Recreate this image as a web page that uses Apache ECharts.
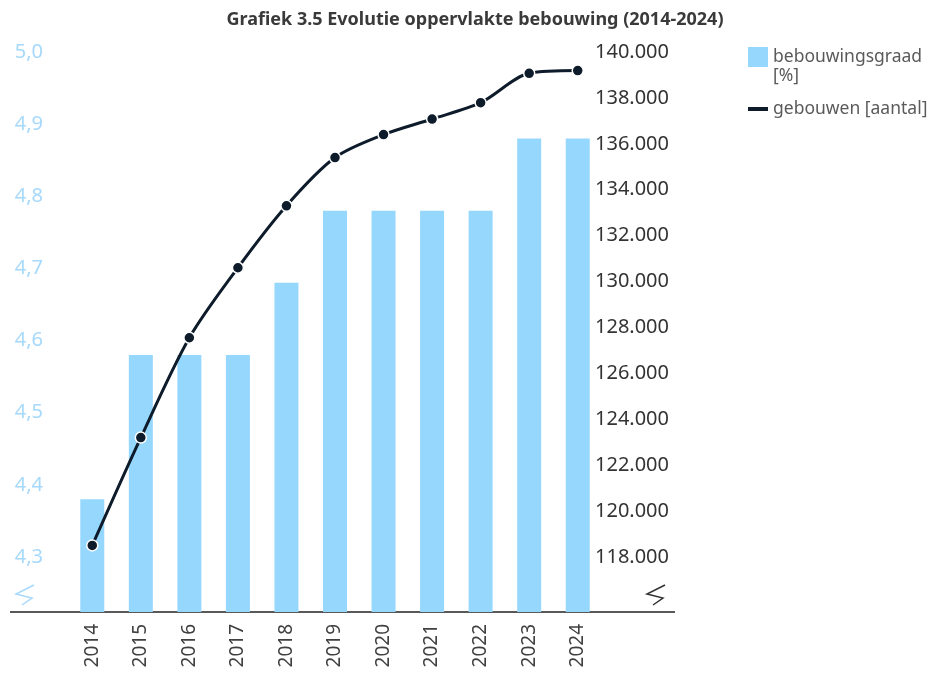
<!DOCTYPE html>
<html>
<head>
<meta charset="utf-8">
<script src="https://cdn.jsdelivr.net/npm/echarts@6/dist/echarts.min.js"></script>
<style>
  html, body { margin: 0; padding: 0; background: #fff; }
  #main { width: 939px; height: 677px; }
</style>
</head>
<body>
<div id="main"></div>
<script>
var jaren = ['2014', '2015', '2016', '2017', '2018', '2019', '2020', '2021', '2022', '2023', '2024'];
var bebouwingsgraad = [4.38, 4.58, 4.58, 4.58, 4.68, 4.78, 4.78, 4.78, 4.78, 4.88, 4.88];
var gebouwen = [118500, 123200, 127550, 130600, 133300, 135400, 136400, 137080, 137790, 139070, 139190];
var naamBar = 'bebouwingsgraad';
var naamLijn = 'gebouwen [aantal]';

var font = '"Noto Sans", sans-serif';
var myChart = echarts.init(document.getElementById('main'));

// zigzag (asbreuk) onderaan beide assen
function zigzag(x, y, kleur) {
    return {
        type: 'polyline',
        shape: { points: [[x + 14, y - 7], [x - 4, y + 2], [x + 12, y + 6], [x + 2, y + 13]] },
        style: { stroke: kleur, lineWidth: 1.5, fill: null },
        silent: true
    };
}

var option = {
    backgroundColor: '#fff',
    animation: false,
    title: {
        text: 'Grafiek 3.5 Evolutie oppervlakte bebouwing (2014-2024)',
        left: 470,
        textAlign: 'center',
        top: 6,
        textStyle: { fontFamily: font, fontSize: 18, fontWeight: 'bold', color: '#3a3a3a' }
    },
    legend: {
        orient: 'vertical',
        left: 748,
        top: 47,
        padding: 0,
        itemWidth: 20,
        itemHeight: 20,
        itemGap: 33,
        textStyle: { fontFamily: font, fontSize: 17.5, color: '#5a5a5a' },
        data: [
            { name: naamBar, icon: 'rect' },
            { name: naamLijn, icon: 'path://M0,0 L20,0 L20,4 L0,4 Z', itemStyle: { borderWidth: 0 } }
        ]
    },
    grid: { left: 68, right: 337, top: 52, bottom: 65 },
    xAxis: {
        type: 'category',
        data: jaren,
        axisLine: { show: false },
        axisTick: { show: false },
        axisLabel: { rotate: 90, margin: 12, fontFamily: font, fontSize: 19, color: '#404040' }
    },
    yAxis: [
        {
            type: 'value',
            position: 'left',
            min: 4.2237,
            max: 5.0,
            minInterval: 0.1,
            maxInterval: 0.1,
            splitLine: { show: false },
            axisLine: { show: false },
            axisTick: { show: false },
            axisLabel: {
                margin: 25,
                fontFamily: font, fontSize: 20, color: '#a6d9fb',
                formatter: function (v) {
                    if (v < 4.25) return '';
                    return v.toFixed(1).replace('.', ',');
                }
            }
        },
        {
            type: 'value',
            position: 'right',
            min: 115600,
            max: 140000,
            minInterval: 2000,
            maxInterval: 2000,
            splitLine: { show: false },
            axisLine: { show: false },
            axisTick: { show: false },
            axisLabel: {
                margin: -7,
                fontFamily: font, fontSize: 20, color: '#333',
                formatter: function (v) {
                    if (v < 117000) return '';
                    return Math.round(v / 1000) + '.000';
                }
            }
        }
    ],
    series: [
        {
            name: naamBar,
            type: 'bar',
            yAxisIndex: 0,
            data: bebouwingsgraad,
            barWidth: 24,
            itemStyle: { color: '#96d7fd' },
            z: 2
        },
        {
            name: naamLijn,
            type: 'line',
            yAxisIndex: 1,
            data: gebouwen,
            smooth: 0.3,
            symbol: 'circle',
            symbolSize: 11,
            lineStyle: { color: '#0d1b2a', width: 3 },
            itemStyle: { color: '#0d1b2a', borderColor: '#fff', borderWidth: 1.5 },
            z: 5
        }
    ],
    graphic: [
        {
            type: 'line',
            shape: { x1: 10, y1: 612, x2: 675, y2: 612 },
            style: { stroke: '#222', lineWidth: 1.5 },
            silent: true
        },
        {
            type: 'text',
            left: 773,
            top: 67,
            style: { text: '[%]', fontFamily: font, fontSize: 17.5, fill: '#5a5a5a' },
            silent: true
        },
        zigzag(20, 592, '#a6d9fb'),
        zigzag(651, 592, '#333')
    ]
};

myChart.setOption(option);
</script>
</body>
</html>
